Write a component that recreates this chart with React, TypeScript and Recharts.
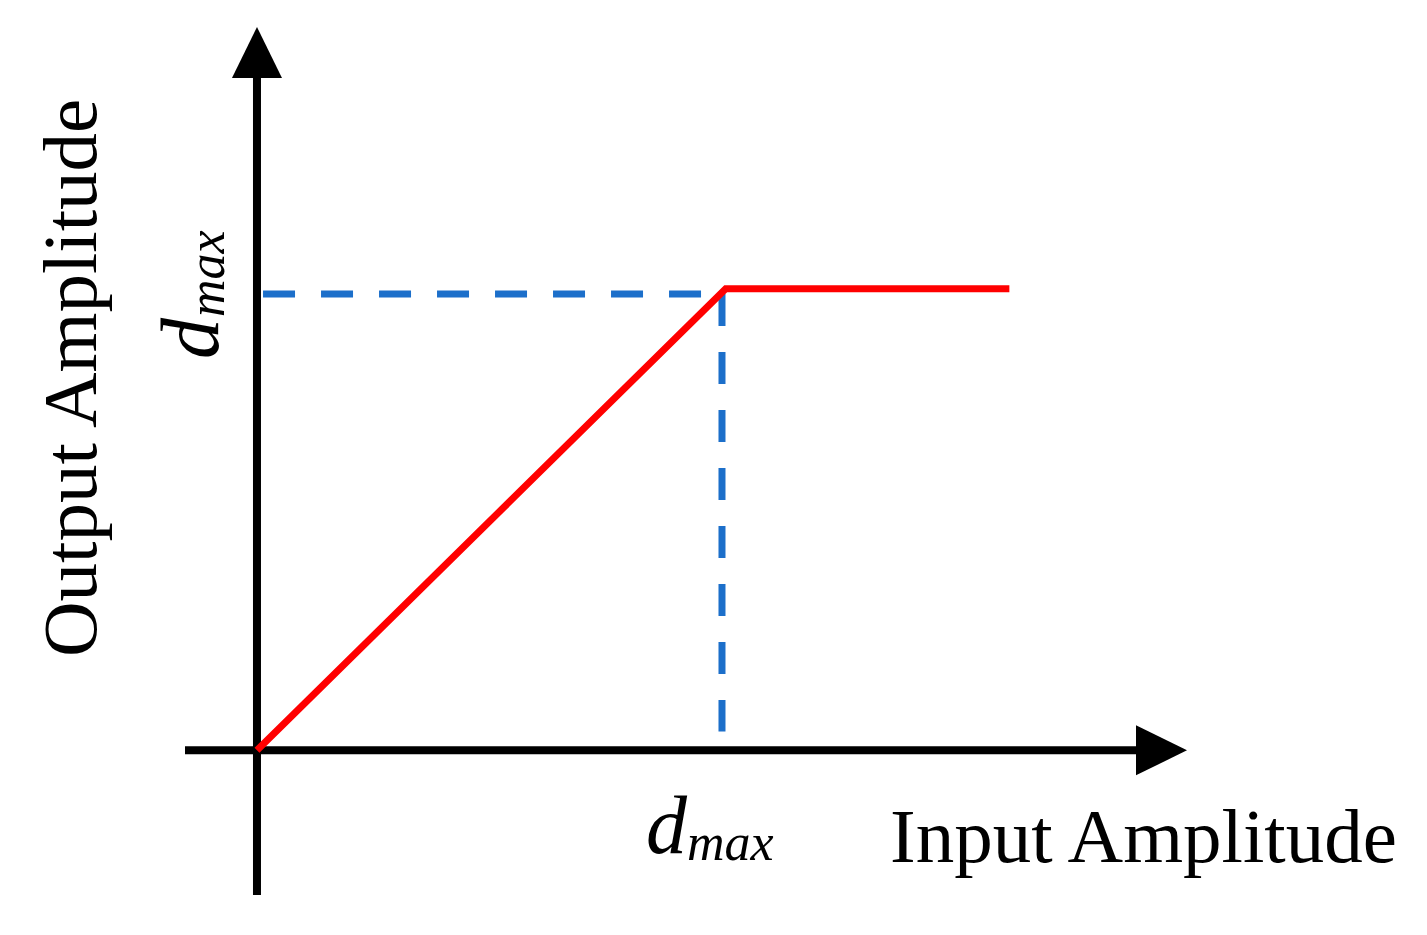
import { LineChart, Line, XAxis, YAxis, ReferenceLine } from "recharts";

// transfer curve: input amplitude -> output amplitude (clipped at dmax)
const inputAmp = [0, 5.04, 8.09];
const outputAmp = [0, 6.38, 6.38];

// dmax guide position
const dmaxIn = 5.0;
const dmaxOut = 6.31;

// axis extents (arrow tips at 10)
const X_DOMAIN: [number, number] = [-0.774, 10];
const Y_DOMAIN: [number, number] = [-2.0, 10];

const curve = inputAmp.map((x, i) => ({ x, y: outputAmp[i] }));

const SERIF = "'Times New Roman', 'Liberation Serif', serif";

function ArrowAxis(props: any) {
  const { x1, y1, x2, y2 } = props;
  const dx = x2 - x1;
  const dy = y2 - y1;
  const len = Math.sqrt(dx * dx + dy * dy) || 1;
  const ux = dx / len;
  const uy = dy / len;
  const headLen = 51;
  const headHalf = 25;
  const bx = x2 - ux * headLen;
  const by = y2 - uy * headLen;
  const px = -uy * headHalf;
  const py = ux * headHalf;
  return (
    <g>
      <line x1={x1} y1={y1} x2={bx + ux} y2={by + uy} stroke="#000" strokeWidth={8} />
      <polygon
        points={`${x2},${y2} ${bx + px},${by + py} ${bx - px},${by - py}`}
        fill="#000"
      />
    </g>
  );
}

export default function App() {
  return (
    <div style={{ position: "absolute", left: 0, top: 0, width: 1427, height: 935, background: "#fff" }}>
      <LineChart
        width={1427}
        height={935}
        data={curve}
        margin={{ top: 27, right: 240, bottom: 40, left: 185 }}
      >
        <XAxis type="number" dataKey="x" domain={X_DOMAIN} allowDataOverflow hide />
        <YAxis type="number" domain={Y_DOMAIN} allowDataOverflow hide />

        {/* dashed guides to dmax */}
        <ReferenceLine
          segment={[{ x: 0.065, y: dmaxOut }, { x: dmaxIn, y: dmaxOut }]}
          stroke="#1c6fca"
          strokeWidth={7}
          strokeDasharray="32 26"
        />
        <ReferenceLine
          segment={[{ x: dmaxIn, y: dmaxOut }, { x: dmaxIn, y: 0.26 }]}
          stroke="#1c6fca"
          strokeWidth={7}
          strokeDasharray="32 26"
        />

        {/* axes with arrowheads */}
        <ReferenceLine
          segment={[{ x: X_DOMAIN[0], y: 0 }, { x: X_DOMAIN[1], y: 0 }]}
          shape={ArrowAxis}
        />
        <ReferenceLine
          segment={[{ x: 0, y: Y_DOMAIN[0] }, { x: 0, y: Y_DOMAIN[1] }]}
          shape={ArrowAxis}
        />

        <Line
          type="linear"
          dataKey="y"
          stroke="#ff0000"
          strokeWidth={7}
          dot={false}
          activeDot={false}
          isAnimationActive={false}
        />
      </LineChart>

      {/* labels */}
      <svg
        width={1427}
        height={935}
        style={{ position: "absolute", left: 0, top: 0, pointerEvents: "none" }}
      >
        <text x={890} y={862} fontFamily={SERIF} fontSize={77} fill="#000">
          Input Amplitude
        </text>
        <text
          x={96}
          y={657}
          transform="rotate(-90 96 657)"
          fontFamily={SERIF}
          fontSize={77}
          fill="#000"
        >
          Output Amplitude
        </text>

        {/* dmax under x axis */}
        <text x={646} y={853} fontFamily={SERIF} fontStyle="italic" fontSize={82} fill="#000">
          d
        </text>
        <text x={687} y={860} fontFamily={SERIF} fontStyle="italic" fontSize={52} fill="#000">
          max
        </text>

        {/* dmax beside y axis */}
        <g transform="translate(218 359) rotate(-90)">
          <text x={0} y={0} fontFamily={SERIF} fontStyle="italic" fontSize={82} fill="#000">
            d
          </text>
          <text x={42} y={6} fontFamily={SERIF} fontStyle="italic" fontSize={52} fill="#000">
            max
          </text>
        </g>
      </svg>
    </div>
  );
}
